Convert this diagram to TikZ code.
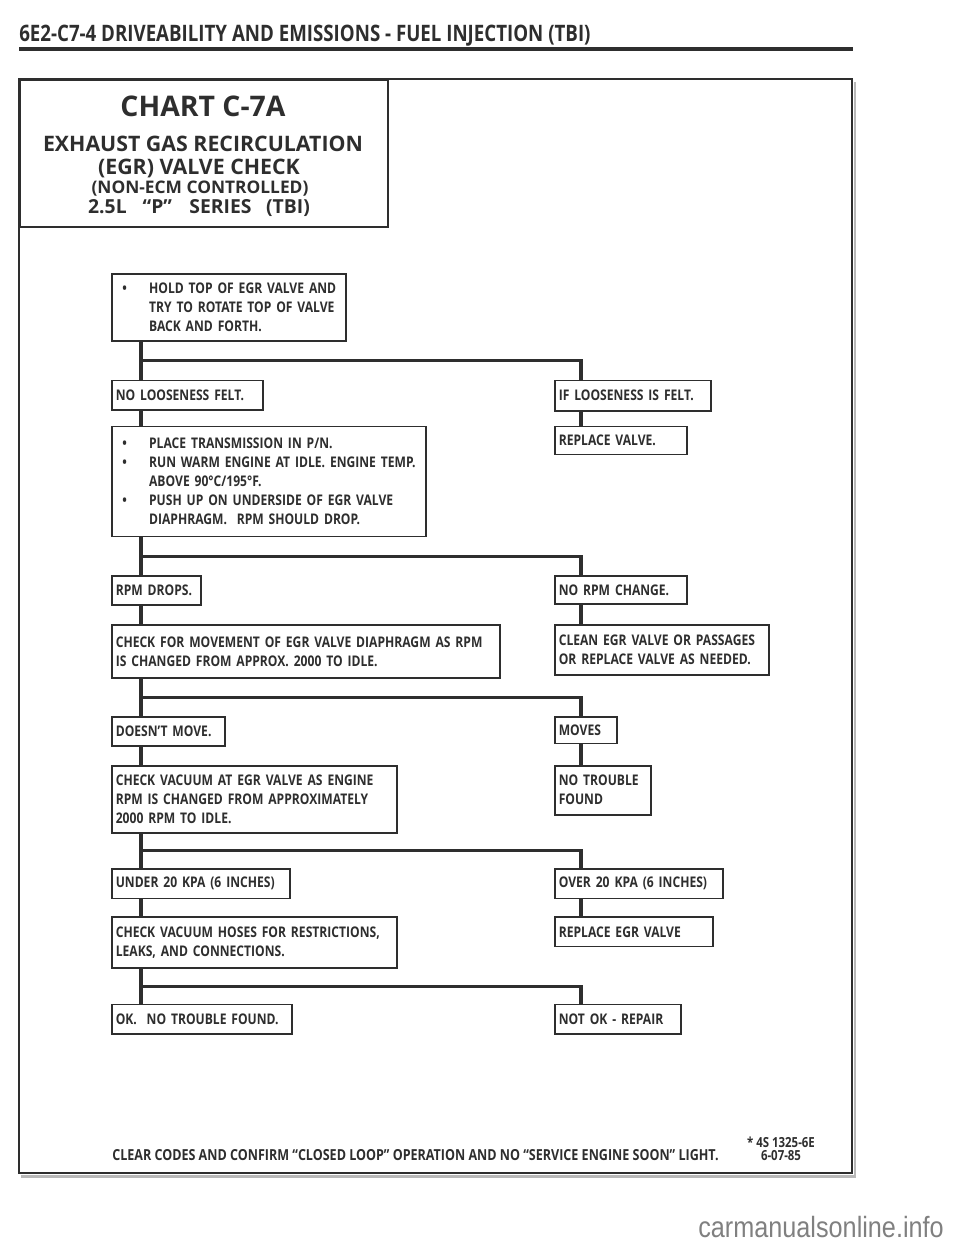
\documentclass[tikz,border=0pt]{standalone}
\usepackage{fontspec}
\setmainfont{Open Sans}
\newfontfamily\condfont[FakeStretch=0.825]{Open Sans}
\newfontfamily\markfont[FakeStretch=0.86]{Liberation Sans}
\usepackage{tikz}
\usetikzlibrary{positioning, calc}
\definecolor{ink}{HTML}{2E2E2E}
\hyphenpenalty=10000
\exhyphenpenalty=10000

\begin{document}
\begin{tikzpicture}[x=0.75pt, y=-0.75pt, line join=miter,
  chk/.style={draw=ink, line width=1.2pt, anchor=north west, align=left,
              inner xsep=3pt, inner ysep=0pt, text=ink,
              font=\condfont\bfseries\fontsize{11}{14.25}\selectfont},
  ttl/.style={anchor=base, text=ink, inner sep=0pt},
  link/.style={draw=ink, line width=2.3pt}]
  \useasboundingbox (0,0) rectangle (960,1242);

  % page head and frame
  \node[anchor=base west, inner sep=0pt, text=ink,
        font=\condfont\bfseries\fontsize{17}{20}\selectfont] (header) at (19,41)
        {6E2-C7-4 DRIVEABILITY AND EMISSIONS - FUEL INJECTION (TBI)};
  \draw[ink, line width=3pt] (19,49) -- (853,49);
  \draw[gray!55, line width=2pt] (21,1176.5) -- (855,1176.5) -- (855,82);
  \draw[ink, line width=2.2pt] (19,79) rectangle (852,1173);

  % title block
  \node[draw=ink, line width=1.5pt, anchor=north west, inner sep=0pt,
        minimum width=276pt, minimum height=110pt] (titlebox) at (19,79) {};
  \node[ttl, font=\bfseries\fontsize{21.3}{24}\selectfont] (chart) at (203,116) {CHART C-7A};
  \node[ttl, font=\bfseries\fontsize{16}{18}\selectfont] (egr1) at (203,151) {EXHAUST GAS RECIRCULATION};
  \node[ttl, font=\bfseries\fontsize{16}{18}\selectfont] (egr2) at (199,174) {(EGR) VALVE CHECK};
  \node[ttl, font=\bfseries\fontsize{13}{15}\selectfont] (nonecm) at (200,193) {(NON-ECM CONTROLLED)};
  \node[ttl, font=\bfseries\fontsize{14.5}{16}\selectfont] (series) at (199,213)
    {2.5L\hspace{12pt}“P”\hspace{13pt}SERIES\hspace{11pt}(TBI)};

  % left column
  \node[chk, text width=169.5pt, minimum height=50.25pt] (hold) at (111,273)
    {\makebox[25pt][l]{\hspace{5pt}\textbullet}HOLD TOP OF EGR VALVE AND\\
     \hspace*{25pt}TRY TO ROTATE TOP OF VALVE\\
     \hspace*{25pt}BACK AND FORTH.};
  \node[chk, text width=107.25pt, minimum height=22pt,
        below=28.5pt of hold.south west, anchor=north west] (noloose) {NO LOOSENESS FELT.};
  \node[chk, text width=229.5pt, minimum height=82.5pt,
        below=11.25pt of noloose.south west, anchor=north west] (place)
    {\makebox[25pt][l]{\hspace{5pt}\textbullet}PLACE TRANSMISSION IN P/N.\\
     \makebox[25pt][l]{\hspace{5pt}\textbullet}RUN WARM ENGINE AT IDLE. ENGINE TEMP.\\
     \hspace*{25pt}ABOVE 90°C/195°F.\\
     \makebox[25pt][l]{\hspace{5pt}\textbullet}PUSH UP ON UNDERSIDE OF EGR VALVE\\
     \hspace*{25pt}DIAPHRAGM.~ RPM SHOULD DROP.};
  \node[chk, text width=60.75pt, minimum height=22pt,
        below=28.5pt of place.south west, anchor=north west] (rpmdrop) {RPM DROPS.};
  \node[chk, text width=285pt, minimum height=39.75pt,
        below=13.5pt of rpmdrop.south west, anchor=north west] (checkmove)
    {CHECK FOR MOVEMENT OF EGR VALVE DIAPHRAGM AS RPM\\
     IS CHANGED FROM APPROX. 2000 TO IDLE.};
  \node[chk, text width=78.75pt, minimum height=22pt,
        below=28pt of checkmove.south west, anchor=north west] (doesnt) {DOESN’T MOVE.};
  \node[chk, text width=207.75pt, minimum height=50.25pt,
        below=13.5pt of doesnt.south west, anchor=north west] (checkvac)
    {CHECK VACUUM AT EGR VALVE AS ENGINE\\
     RPM IS CHANGED FROM APPROXIMATELY\\
     2000 RPM TO IDLE.};
  \node[chk, text width=127.5pt, minimum height=22pt,
        below=26pt of checkvac.south west, anchor=north west] (under) {UNDER 20 KPA (6 INCHES)};
  \node[chk, text width=207.75pt, minimum height=38.25pt,
        below=13pt of under.south west, anchor=north west] (hoses)
    {CHECK VACUUM HOSES FOR RESTRICTIONS,\\
     LEAKS, AND CONNECTIONS.};
  \node[chk, text width=129pt, minimum height=22pt,
        below=26pt of hoses.south west, anchor=north west] (ok) {OK.~ NO TROUBLE FOUND.};

  % right column
  \node[chk, text width=111pt, minimum height=23pt] (ifloose)
    at ([xshift=332.25pt]noloose.north west) {IF LOOSENESS IS FELT.};
  \node[chk, text width=93pt, minimum height=21pt] (replace)
    at ([xshift=332.25pt]place.north west) {REPLACE VALVE.};
  \node[chk, text width=93pt, minimum height=21pt] (norpm)
    at ([xshift=332.25pt]rpmdrop.north west) {NO RPM CHANGE.};
  \node[chk, text width=154.5pt, minimum height=37.5pt] (clean)
    at ([xshift=332.25pt]checkmove.north west)
    {CLEAN EGR VALVE OR PASSAGES\\ OR REPLACE VALVE AS NEEDED.};
  \node[chk, text width=40.5pt, minimum height=20pt] (moves)
    at ([xshift=332.25pt]doesnt.north west) {MOVES};
  \node[chk, text width=66pt, minimum height=36.75pt] (notrouble)
    at ([xshift=332.25pt]checkvac.north west) {NO TROUBLE\\ FOUND};
  \node[chk, text width=120pt, minimum height=22pt] (over)
    at ([xshift=332.25pt]under.north west) {OVER 20 KPA (6 INCHES)};
  \node[chk, text width=112.5pt, minimum height=22pt] (replaceegr)
    at ([xshift=332.25pt]hoses.north west) {REPLACE EGR VALVE};
  \node[chk, text width=88.5pt, minimum height=22pt] (notok)
    at ([xshift=332.25pt]ok.north west) {NOT OK - REPAIR};

  % connectors
  \foreach \p/\l/\r in {hold/noloose/ifloose, place/rpmdrop/norpm,
      checkmove/doesnt/moves, checkvac/under/over, hoses/ok/notok}{
    \draw[link] ([xshift=22.5pt]\p.south west) -- ([xshift=22.5pt]\l.north west);
    \draw[link] ($([xshift=22.5pt]\p.south west)!.5!([xshift=22.5pt]\l.north west)$)
      -| ([xshift=20.25pt]\r.north west);
  }
  \foreach \a/\b in {noloose/place, rpmdrop/checkmove, doesnt/checkvac, under/hoses}
    \draw[link] ([xshift=22.5pt]\a.south west) -- ([xshift=22.5pt]\b.north west);
  \foreach \a/\b in {ifloose/replace, norpm/clean, moves/notrouble, over/replaceegr}
    \draw[link] ([xshift=20.25pt]\a.south west) -- ([xshift=20.25pt]\b.north west);

  % foot of the chart
  \node[anchor=base west, inner sep=0pt, text=ink,
        font=\condfont\bfseries\fontsize{11.4}{12}\selectfont] (note) at (112,1160)
    {CLEAR CODES AND CONFIRM “CLOSED LOOP” OPERATION AND NO “SERVICE ENGINE SOON” LIGHT.};
  \node[align=center, inner sep=0pt, text=ink,
        font=\condfont\bfseries\fontsize{10.4}{9.75}\selectfont] (ref) at (781,1149)
    {* 4S 1325-6E\\ 6-07-85};
  \node[anchor=base east, inner sep=0pt, text=gray,
        font=\markfont\fontsize{22}{24}\selectfont] (mark) at (944,1237) {carmanualsonline.info};
\end{tikzpicture}
\end{document}
